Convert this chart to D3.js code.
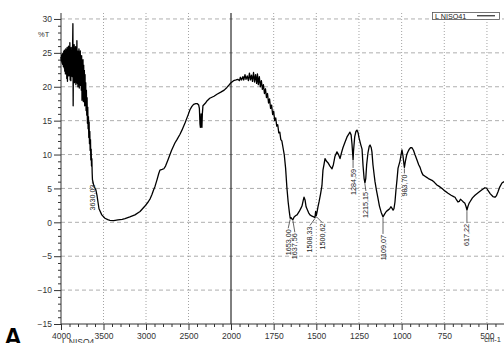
<!DOCTYPE html>
<html><head><meta charset="utf-8">
<script src="https://cdn.jsdelivr.net/npm/d3@7"></script>
<style>html,body{margin:0;padding:0;background:#fff;}svg{display:block;font-family:"Liberation Sans",Arial,sans-serif;}</style>
</head><body>
<svg id="c" width="504" height="343"></svg>
<script>
// ---- data ----
const xMajorTicks = [4000,3500,3000,2500,2000,1750,1500,1250,1000,750,500];
const yMajorTicks = [30,25,20,15,10,5,0,-5,-10,-15];
const seriesName = "L NISO41";
const sampleName = "L NISO4";
const yLabel = "%T";
const xUnit = "cm-1";
const panelLetter = "A";

// [wavenumber, %T]
const spectrum = [
[4000,24.4],[3996,23.8],[3992,24.7],[3988,23.5],[3984,24.9],[3980,23.3],[3976,24.6],[3972,23.0],[3968,25.2],[3964,22.8],
[3960,25.4],[3956,22.3],[3952,25.0],[3948,21.9],[3944,25.6],[3940,22.5],[3936,24.9],[3932,21.2],[3928,25.8],[3924,20.8],
[3920,25.3],[3916,22.0],[3912,26.0],[3908,21.6],[3904,25.5],[3900,22.4],[3896,26.5],[3892,21.0],[3888,25.2],[3884,20.9],
[3880,25.8],[3876,22.3],[3872,24.8],[3868,21.5],[3864,25.6],[3860,29.3],[3857,17.2],[3853,25.4],[3849,21.2],[3845,26.2],
[3841,20.6],[3837,25.0],[3833,21.8],[3829,25.9],[3825,20.3],[3821,24.6],[3817,22.0],[3813,26.8],[3809,20.5],[3805,25.3],
[3801,20.0],[3797,24.8],[3793,21.5],[3789,25.6],[3785,19.8],[3781,24.2],[3777,21.0],[3773,25.3],[3769,20.2],[3765,23.8],
[3761,19.5],[3757,24.6],[3753,18.0],[3749,23.5],[3745,20.0],[3741,24.0],[3737,17.8],[3733,23.2],[3729,19.0],[3725,22.4],
[3721,17.2],[3717,21.8],[3713,17.5],[3709,20.6],[3705,16.5],[3701,19.5],[3697,15.8],[3693,18.4],[3689,14.6],[3685,17.0],
[3681,13.8],[3677,15.6],[3673,12.5],[3669,14.8],[3665,11.6],[3661,13.4],[3657,10.6],[3653,12.2],[3649,9.2],[3645,10.8],
[3641,8.3],[3637,9.4],[3633,7.2],[3630,6.3],
[3612,5.3],[3590,4.8],[3577,4.0],[3565,3.0],[3553,2.0],[3520,1.1],[3483,0.6],[3450,0.4],[3424,0.3],[3380,0.25],
[3330,0.35],[3280,0.45],[3247,0.55],[3190,0.8],[3130,1.1],[3070,1.6],[3012,2.4],[2975,3.0],[2950,3.5],[2930,4.1],
[2910,4.8],[2894,5.3],[2870,6.3],[2850,7.2],[2836,7.7],[2810,7.8],[2790,7.9],[2770,8.3],[2742,9.2],[2700,10.6],
[2660,11.7],[2636,12.2],[2600,13.0],[2577,13.6],[2540,14.7],[2500,16.0],[2483,16.6],[2460,17.1],[2440,17.4],[2415,17.5],
[2395,17.5],[2380,17.3],[2372,16.8],[2365,14.5],[2360,14.0],[2355,14.3],[2352,16.0],[2348,14.2],[2342,14.0],[2337,16.0],
[2330,17.2],[2300,17.6],[2283,17.9],[2250,18.3],[2200,18.6],[2165,18.9],[2120,19.2],[2080,19.5],[2048,19.9],[2020,20.3],
[2000,20.6],[1985,20.9],[1970,21.0],[1960,21.1],[1950,20.9],[1945,21.4],[1938,21.0],[1930,21.5],[1925,21.0],[1918,21.8],
[1912,21.1],[1905,21.6],[1898,20.9],[1892,22.0],[1886,21.0],[1880,21.7],[1874,20.8],[1868,22.1],[1862,20.7],[1856,21.8],
[1850,20.5],[1845,21.9],[1840,20.3],[1834,21.5],[1828,20.0],[1822,20.9],[1816,19.6],[1810,20.3],[1804,19.0],[1798,19.7],
[1792,18.4],[1786,19.0],[1780,17.6],[1774,18.2],[1768,16.8],[1762,17.3],[1756,15.9],[1750,16.4],[1744,15.0],[1738,15.4],
[1732,14.2],[1726,14.4],[1720,13.2],[1714,13.3],[1708,12.2],[1702,12.0],[1695,11.0],[1688,10.0],[1680,8.0],[1672,5.0],
[1665,3.0],[1658,1.5],[1653,0.6],[1648,0.7],[1643,0.5],[1637,0.4],[1630,0.8],[1620,1.0],[1613,1.1],[1600,1.6],
[1590,2.1],[1584,2.4],[1576,3.3],[1572,3.7],[1566,3.3],[1560,2.3],[1555,2.0],[1545,1.4],[1537,1.1],[1525,0.9],
[1515,0.8],[1508,0.7],[1504,1.6],[1500,1.0],[1495,1.6],[1490,2.3],[1484,3.0],[1475,4.2],[1467,5.4],[1461,7.7],
[1455,8.5],[1449,9.4],[1440,9.0],[1432,8.8],[1420,8.3],[1408,7.9],[1400,8.5],[1391,9.7],[1379,10.4],[1370,10.0],
[1361,9.4],[1352,10.3],[1344,11.0],[1332,11.8],[1320,12.6],[1310,13.0],[1303,13.3],[1296,12.9],[1291,11.6],[1286,9.8],
[1284.6,9.2],[1282,10.5],[1275,12.6],[1268,13.4],[1262,13.6],[1255,13.2],[1250,12.5],[1240,11.5],[1232,10.8],[1226,8.3],
[1220,6.5],[1215,5.8],[1210,6.5],[1205,8.5],[1197,10.3],[1190,11.2],[1185,11.4],[1178,11.0],[1174,10.4],[1168,8.5],
[1160,6.8],[1156,6.0],[1148,4.8],[1139,3.6],[1130,2.4],[1120,1.5],[1109,0.8],[1100,1.2],[1090,1.6],[1080,1.8],
[1070,2.0],[1063,2.3],[1057,2.1],[1050,1.8],[1045,2.0],[1039,3.0],[1033,4.8],[1027,6.3],[1021,8.0],[1010,9.0],
[1003,10.0],[998,10.7],[992,9.8],[986,8.5],[983.7,8.1],[978,9.0],[970,10.0],[963,10.4],[955,10.8],[948,11.0],
[939,11.0],[930,10.6],[922,10.0],[910,9.2],[900,8.5],[892,8.1],[883,7.4],[875,7.0],[863,6.8],[851,6.6],
[840,6.4],[822,6.2],[808,5.9],[793,5.5],[780,5.3],[763,5.0],[745,4.6],[728,4.3],[710,4.0],[695,3.8],
[687,3.7],[678,3.3],[670,3.0],[662,3.1],[655,3.4],[646,3.2],[638,3.0],[629,2.8],[622,2.3],[617,1.8],
[612,2.3],[605,2.8],[600,3.0],[585,3.6],[570,4.0],[550,4.4],[529,4.8],[512,5.1],[500,5.0],[494,4.7],
[480,4.2],[465,3.8],[453,3.7],[445,3.9],[435,4.5],[425,5.2],[412,5.8],[400,6.0]
];

// labelled peaks: wavenumber, %T at the peak, label text
const peakWn = [3630.03,1653.00,1637.56,1508.33,1500.62,1284.59,1215.15,1109.07,983.70,617.22];
const peakT  = [6.3,0.6,0.45,0.7,1.0,9.2,5.8,0.8,8.1,1.8];
const peakText = ["3630,03","1653,00","1637,56","1508,33","1500,62","1284,59","1215,15","1109,07","983,70","617,22"];
// label layout (offsets in px from peak point): dx of text, gap to text top
const labelDx  = [0,-2,2,-5,6,0,1,0,0,0];
const labelGap = [5,11,14,9,8,9,9,18,7,14];

// ---- chart ----
const svg = d3.select("#c");
const x = d3.scaleLinear().domain([4000,2000,400]).range([61,231,504]);
const y = d3.scaleLinear().domain([-15,30.88]).range([324,13]);
const pL = 61, pR = 504, pT = 13, pB = 324;

const minorX = d3.range(4000,2000,-100).concat(d3.range(2000,399,-50)).filter(v=>!xMajorTicks.includes(v));
const minorY = d3.range(-15,31,1).filter(v=>!yMajorTicks.includes(v));

// grid
const g = svg.append("g");
g.selectAll(".hg").data(yMajorTicks.filter(v=>v>-15)).join("line")
  .attr("x1",pL).attr("x2",pR).attr("y1",d=>y(d)).attr("y2",d=>y(d))
  .attr("stroke","#9a9a9a").attr("stroke-width",0.8).attr("stroke-dasharray","4,3");
g.selectAll(".vg").data(xMajorTicks.filter(v=>v!==4000 && v!==2000)).join("line")
  .attr("x1",d=>x(d)).attr("x2",d=>x(d)).attr("y1",pT).attr("y2",pB)
  .attr("stroke","#9a9a9a").attr("stroke-width",0.9).attr("stroke-dasharray","1,2");
// solid line at 2000 (scale break)
g.append("line").attr("x1",x(2000)).attr("x2",x(2000)).attr("y1",pT).attr("y2",pB)
  .attr("stroke","#000").attr("stroke-width",1);

// axes
const yAxis = d3.axisLeft(y).tickValues(yMajorTicks).tickSize(7).tickPadding(2).tickFormat(d3.format("d"));
const ya = svg.append("g").attr("transform",`translate(${pL},0)`).call(yAxis);
ya.select(".domain").attr("d",`M0,${pT}V${pB}`).attr("stroke","#333");
ya.selectAll(".tick line").attr("stroke","#333");
ya.selectAll("text").attr("font-size",8.5).attr("fill","#333").attr("font-family","Liberation Sans, Arial, sans-serif");
svg.append("g").attr("transform",`translate(${pL},0)`)
  .call(d3.axisLeft(y).tickValues(minorY).tickSize(3).tickFormat(""))
  .call(s=>{s.select(".domain").remove(); s.selectAll("line").attr("stroke","#333");});

const xAxis = d3.axisBottom(x).tickValues(xMajorTicks).tickSize(6).tickPadding(3).tickFormat(d3.format("d"));
const xa = svg.append("g").attr("transform",`translate(0,${pB})`).call(xAxis);
xa.select(".domain").attr("d",`M${pL},0H${pR}`).attr("stroke","#333");
xa.selectAll(".tick line").attr("stroke","#333");
xa.selectAll("text").attr("font-size",8.5).attr("fill","#333").attr("font-family","Liberation Sans, Arial, sans-serif");
svg.append("g").attr("transform",`translate(0,${pB})`)
  .call(d3.axisBottom(x).tickValues(minorX).tickSize(3).tickFormat(""))
  .call(s=>{s.select(".domain").remove(); s.selectAll("line").attr("stroke","#333");});

// curve
const line = d3.line().x(d=>x(d[0])).y(d=>y(d[1]));
svg.append("path").datum(spectrum).attr("d",line)
  .attr("fill","none").attr("stroke","#000").attr("stroke-width",1.3).attr("stroke-linejoin","round");

// peak labels
peakWn.forEach((wn,i)=>{
  const px = x(wn), py = y(peakT[i]);
  const tx = px + labelDx[i], ty = py + labelGap[i];
  svg.append("line").attr("x1",px).attr("y1",py+1).attr("x2",tx).attr("y2",ty-1)
    .attr("stroke","#222").attr("stroke-width",0.7);
  svg.append("text").attr("transform",`translate(${tx+2.5},${ty}) rotate(-90)`)
    .attr("text-anchor","end").attr("font-size",7.2).attr("fill","#222")
    .text(peakText[i]);
});

// legend box
svg.append("rect").attr("x",432.5).attr("y",12.5).attr("width",67).attr("height",7)
  .attr("fill","#fff").attr("stroke","#555").attr("stroke-width",0.8);
svg.append("text").attr("x",435).attr("y",18.6).attr("font-size",7.2).attr("fill","#222").text(seriesName);
svg.append("line").attr("x1",477).attr("x2",495).attr("y1",15.8).attr("y2",15.8).attr("stroke","#000").attr("stroke-width",1);

// axis titles
svg.append("text").attr("x",38).attr("y",37).attr("font-size",7.5).attr("fill","#333").text(yLabel);
svg.append("text").attr("x",501).attr("y",342).attr("text-anchor","end").attr("font-size",7.5).attr("fill","#333").text(xUnit);
svg.append("text").attr("x",62).attr("y",345).attr("font-size",8.5).attr("fill","#333").text(sampleName);
svg.append("text").attr("x",4).attr("y",346).attr("font-size",25).attr("font-weight","bold").attr("fill","#000").text(panelLetter);
</script>
</body></html>
